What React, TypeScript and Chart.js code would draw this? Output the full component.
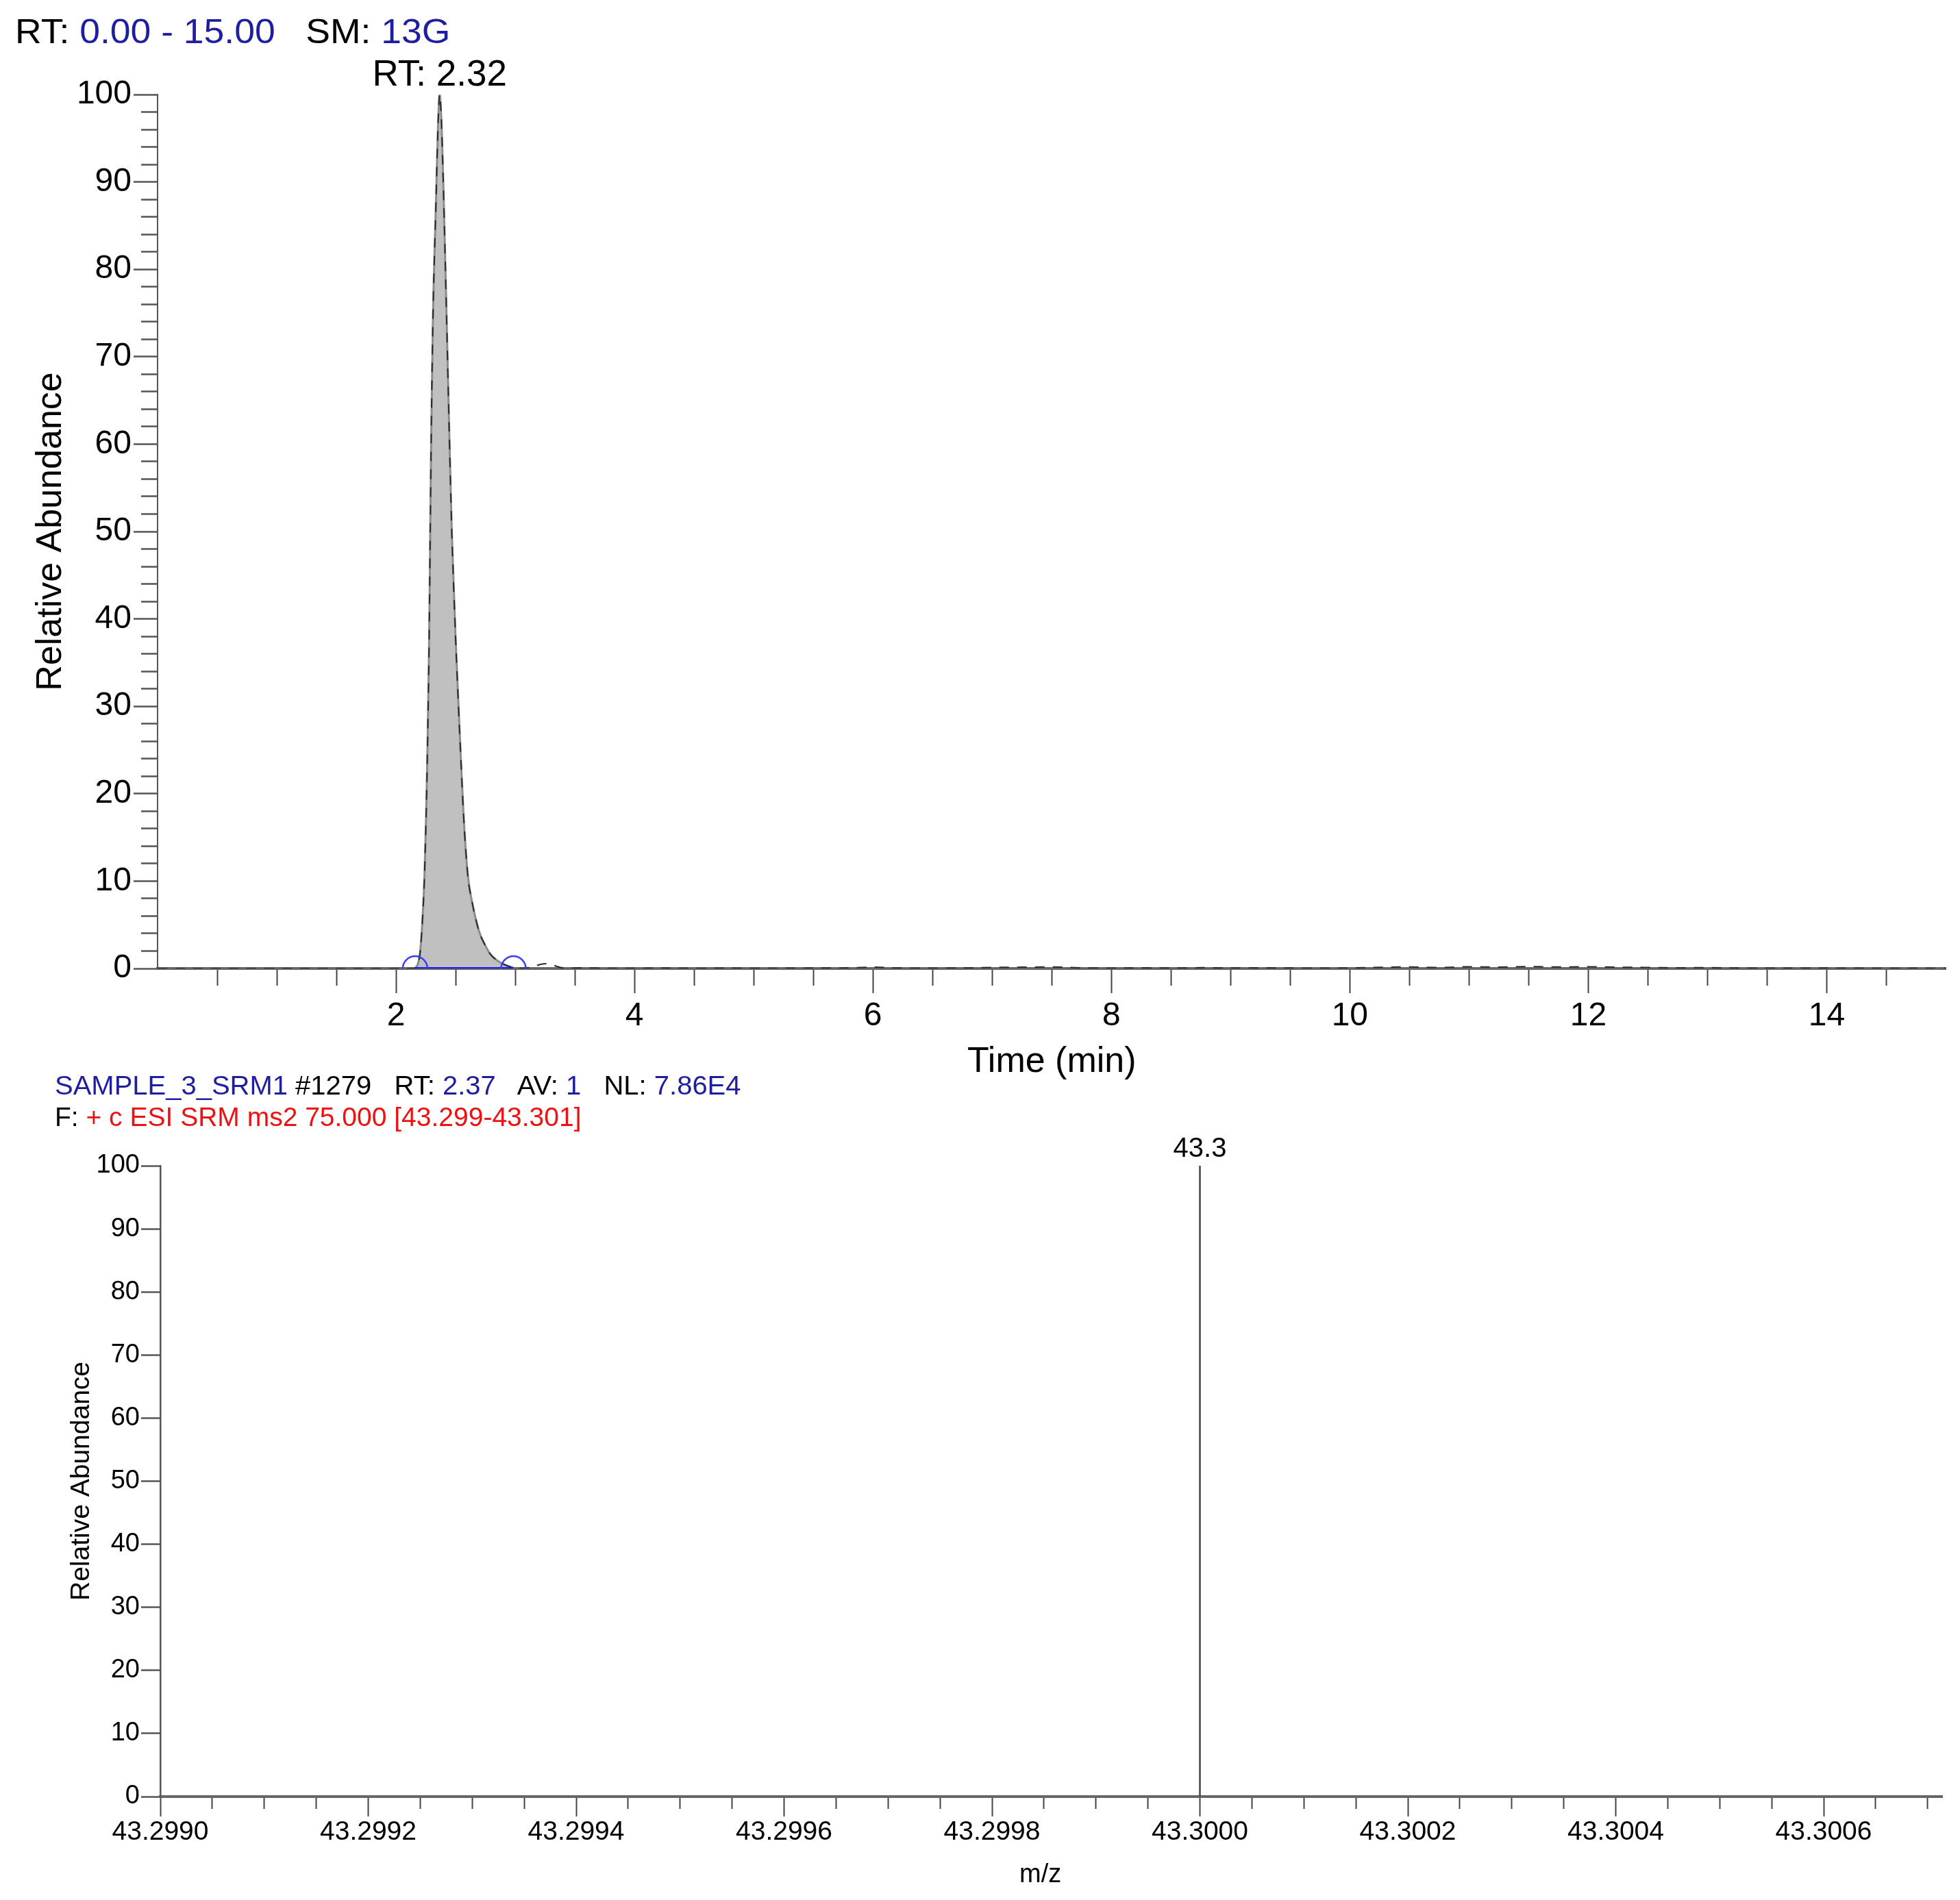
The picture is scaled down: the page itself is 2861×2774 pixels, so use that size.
import React, { useEffect, useRef } from 'react';
import { Chart, registerables } from 'chart.js';

Chart.register(...registerables);

const FONT = '"Liberation Sans", Arial, Helvetica, sans-serif';
Chart.defaults.font.family = FONT;
Chart.defaults.color = '#000';

// ---------- Top: chromatogram ----------
const rtTimes = [
  0, 0.5, 1.0, 1.5, 1.9, 2.10, 2.16, 2.18, 2.20, 2.216, 2.229, 2.239, 2.252, 2.262, 2.277,
  2.287, 2.296, 2.310, 2.335, 2.351, 2.366, 2.384, 2.401, 2.424, 2.446, 2.468, 2.503, 2.545,
  2.568, 2.602, 2.641, 2.698, 2.750, 2.794, 2.850, 2.900, 2.945, 2.985, 3.05, 3.12, 3.18,
  3.25, 3.31, 3.38, 3.45, 3.55, 3.75, 4.0, 4.25, 4.5, 4.75, 5.0, 5.25, 5.5, 5.75, 6.0, 6.25,
  6.5, 6.75, 7.0, 7.25, 7.5, 7.75, 8.0, 8.25, 8.5, 8.75, 9.0, 9.25, 9.5, 9.75, 10.0, 10.25,
  10.5, 10.75, 11.0, 11.25, 11.5, 11.75, 12.0, 12.25, 12.5, 12.75, 13.0, 13.25, 13.5, 13.75,
  14.0, 14.25, 14.5, 14.75, 15.0,
];
const rtAbundance = [
  0, 0, 0, 0, 0, 0, 0.05, 0.4, 1.6, 4.2, 7.4, 10.7, 17.2, 23.7, 36.7,
  49.9, 61.7, 74.6, 87.6, 95.8, 100, 95.8, 87.6, 74.6, 61.7, 49.9, 36.7, 23.7,
  17.2, 10.7, 7.4, 4.2, 2.6, 1.6, 0.9, 0.5, 0.25, 0.1, 0.02, 0.1, 0.35,
  0.55, 0.4, 0.12, 0.02, 0.08, 0.03, 0.02, 0.05, 0.02, 0.04, 0.02, 0.03, 0.05, 0.06, 0.15, 0.05,
  0.03, 0.06, 0.12, 0.15, 0.18, 0.08, 0.04, 0.07, 0.05, 0.09, 0.06, 0.08, 0.05, 0.04, 0.06, 0.14,
  0.18, 0.12, 0.2, 0.16, 0.22, 0.18, 0.2, 0.15, 0.12, 0.08, 0.1, 0.05, 0.04, 0.03,
  0.05, 0.03, 0.02, 0.03, 0.02,
];
const integrationMarks = [2.16, 2.985];
const apexTime = 2.366;
const apexLabel = 'RT: 2.32';
const rtMin = 0;
const rtMax = 15;

// ---------- Bottom: spectrum ----------
const mzValues = [43.3];
const mzIntensity = [100];
const mzLabels = ['43.3'];
const mzMin = 43.299;
const mzMax = 43.300714;

const BLUE = '#1e1ea0';
const RED = '#ee1111';

function isMult(v: number, step: number) {
  const q = v / step;
  return Math.abs(q - Math.round(q)) < 1e-4;
}

export default function App() {
  const topRef = useRef<HTMLCanvasElement | null>(null);
  const botRef = useRef<HTMLCanvasElement | null>(null);

  useEffect(() => {
    const trace = rtTimes.map((t, i) => ({ x: t, y: rtAbundance[i] }));
    const peak = trace.filter((p) => p.x >= integrationMarks[0] && p.x <= integrationMarks[1]);

    const topLabelPlugin = {
      id: 'topLabel',
      afterDatasetsDraw(chart: any) {
        const { ctx, scales } = chart;
        ctx.save();
        ctx.font = `53px ${FONT}`;
        ctx.fillStyle = '#000';
        ctx.textAlign = 'center';
        ctx.textBaseline = 'middle';
        ctx.fillText(apexLabel, scales.x.getPixelForValue(apexTime), scales.y.getPixelForValue(100) - 28);
        ctx.restore();
      },
    };

    const top = new Chart(topRef.current as HTMLCanvasElement, {
      type: 'line',
      data: {
        datasets: [
          {
            label: 'marks',
            data: integrationMarks.map((t) => ({ x: t, y: 0 })),
            showLine: false,
            pointRadius: 18,
            pointHoverRadius: 18,
            pointStyle: 'circle',
            pointBorderColor: '#3a3aff',
            pointBackgroundColor: 'rgba(0,0,0,0)',
            pointBorderWidth: 2.5,
            clip: 0,
            order: 0,
          } as any,
          {
            label: 'baseline',
            data: integrationMarks.map((t) => ({ x: t, y: 0 })),
            borderColor: '#1a1aff',
            borderWidth: 4,
            pointRadius: 0,
            order: 1,
          },
          {
            label: 'trace',
            data: trace,
            borderColor: '#2a2a2a',
            borderWidth: 2,
            borderDash: [14, 12],
            pointRadius: 0,
            fill: false,
            cubicInterpolationMode: 'monotone',
            order: 2,
          },
          {
            label: 'peak',
            data: peak,
            borderColor: '#8c8c8c',
            borderWidth: 3,
            backgroundColor: '#c0c0c0',
            fill: 'origin',
            pointRadius: 0,
            cubicInterpolationMode: 'monotone',
            order: 3,
          },
        ],
      },
      options: {
        animation: false,
        responsive: false,
        maintainAspectRatio: false,
        events: [],
        layout: { padding: { top: 138, right: 17, left: 0, bottom: 0 } },
        plugins: { legend: { display: false }, tooltip: { enabled: false }, title: { display: false } },
        scales: {
          x: {
            type: 'linear',
            min: rtMin,
            max: rtMax,
            afterFit: (s: any) => { s.height = 186; },
            border: { display: true, color: '#666', width: 4 },
            grid: {
              drawOnChartArea: false,
              drawTicks: true,
              tickLength: 36,
              tickColor: (c: any) =>
                c.tick && (c.tick.value === rtMin || c.tick.value === rtMax) ? 'rgba(0,0,0,0)' : '#444',
              tickWidth: 2,
              tickBorderDash: (c: any) => (c.tick && isMult(c.tick.value, 2) ? [] : [23, 1000]),
            },
            ticks: {
              stepSize: 0.5,
              autoSkip: false,
              maxRotation: 0,
              padding: 5,
              color: '#000',
              font: { size: 48, family: FONT },
              callback: (v: any) => (isMult(v, 2) && v !== 0 ? String(Math.round(v)) : ''),
            },
            title: {
              display: true,
              text: 'Time (min)',
              color: '#000',
              font: { size: 52, family: FONT },
              padding: { top: 0, bottom: 18 },
            },
          },
          y: {
            type: 'linear',
            min: 0,
            max: 100,
            afterFit: (s: any) => { s.width = 230; },
            border: { display: true, color: '#555', width: 2 },
            grid: {
              drawOnChartArea: false,
              drawTicks: true,
              tickLength: 35,
              tickColor: '#555',
              tickWidth: 2.5,
              tickBorderDash: (c: any) => (c.tick && isMult(c.tick.value, 10) ? [] : [0, 11, 24, 1000]),
            },
            ticks: {
              stepSize: 2,
              autoSkip: false,
              padding: 3,
              color: '#000',
              font: { size: 48, family: FONT },
              callback: (v: any) => (isMult(v, 10) ? String(Math.round(v)) : ''),
            },
            title: {
              display: true,
              text: 'Relative Abundance',
              color: '#000',
              font: { size: 52, family: FONT },
              padding: { top: 43, bottom: 0 },
            },
          },
        },
      },
      plugins: [topLabelPlugin],
    } as any);

    const sticks = mzValues.map((mz, i) => ({
      label: 'peak' + i,
      data: [{ x: mz, y: 0 }, { x: mz, y: mzIntensity[i] }],
      borderColor: '#444',
      borderWidth: 2.5,
      pointRadius: 0,
      fill: false,
    }));

    const botLabelPlugin = {
      id: 'botLabel',
      afterDatasetsDraw(chart: any) {
        const { ctx, scales } = chart;
        ctx.save();
        ctx.font = `40px ${FONT}`;
        ctx.fillStyle = '#000';
        ctx.textAlign = 'center';
        ctx.textBaseline = 'middle';
        mzValues.forEach((mz, i) => {
          ctx.fillText(mzLabels[i], scales.x.getPixelForValue(mz), scales.y.getPixelForValue(mzIntensity[i]) - 24);
        });
        ctx.restore();
      },
    };

    const bot = new Chart(botRef.current as HTMLCanvasElement, {
      type: 'line',
      data: { datasets: sticks },
      options: {
        animation: false,
        responsive: false,
        maintainAspectRatio: false,
        events: [],
        layout: { padding: { top: 102, right: 26, left: 0, bottom: 0 } },
        plugins: { legend: { display: false }, tooltip: { enabled: false }, title: { display: false } },
        scales: {
          x: {
            type: 'linear',
            min: mzMin,
            max: mzMax,
            afterFit: (s: any) => { s.height = 151; },
            border: { display: true, color: '#666', width: 4 },
            grid: {
              drawOnChartArea: false,
              drawTicks: true,
              tickLength: 29,
              tickColor: '#444',
              tickWidth: 2,
              tickBorderDash: (c: any) => (c.tick && isMult(c.tick.value, 0.0002) ? [] : [16, 1000]),
            },
            ticks: {
              stepSize: 0.00005,
              includeBounds: false,
              autoSkip: false,
              maxRotation: 0,
              padding: 0,
              color: '#000',
              font: { size: 39, family: FONT },
              callback: (v: any) => (isMult(v, 0.0002) ? Number(v).toFixed(4) : ''),
            },
            title: {
              display: true,
              text: 'm/z   ',
              color: '#000',
              font: { size: 38, family: FONT },
              padding: { top: 0, bottom: 14 },
            },
          },
          y: {
            type: 'linear',
            min: 0,
            max: 100,
            afterFit: (s: any) => { s.width = 234; },
            border: { display: true, color: '#555', width: 2.5 },
            grid: {
              drawOnChartArea: false,
              drawTicks: true,
              tickLength: 28,
              tickColor: '#555',
              tickWidth: 2.5,
            },
            ticks: {
              stepSize: 10,
              autoSkip: false,
              padding: 2,
              color: '#000',
              font: { size: 38, family: FONT },
            },
            title: {
              display: true,
              text: 'Relative Abundance',
              color: '#000',
              font: { size: 39, family: FONT },
              padding: { top: 96, bottom: 0 },
            },
          },
        },
      },
      plugins: [botLabelPlugin],
    } as any);

    return () => {
      top.destroy();
      bot.destroy();
    };
  }, []);

  const abs: React.CSSProperties = {
    position: 'absolute',
    whiteSpace: 'pre',
    fontFamily: FONT,
    color: '#000',
    transformOrigin: '0 50%',
  };

  return (
    <div style={{ position: 'absolute', left: 0, top: 0, width: 2861, height: 2774, background: '#fff', overflow: 'hidden' }}>
      <canvas
        ref={topRef}
        width={2861}
        height={1600}
        style={{ position: 'absolute', left: 0, top: 0, width: 2861, height: 1600, display: 'block' }}
      />
      <canvas
        ref={botRef}
        width={2861}
        height={1174}
        style={{ position: 'absolute', left: 0, top: 1600, width: 2861, height: 1174, display: 'block' }}
      />
      <div style={{ ...abs, left: 22, top: 16, fontSize: 50, lineHeight: '60px', transform: 'scaleX(1.07)' }}>
        <span>RT: </span>
        <span style={{ color: BLUE }}>0.00 - 15.00</span>
        <span>{'   SM: '}</span>
        <span style={{ color: BLUE }}>13G</span>
      </div>
      <div style={{ ...abs, left: 80, top: 1561, fontSize: 39, lineHeight: '47px', transform: 'scaleX(1.025)' }}>
        <span style={{ color: BLUE }}>SAMPLE_3_SRM1</span>
        <span>{' #1279   RT: '}</span>
        <span style={{ color: BLUE }}>2.37</span>
        <span>{'   AV: '}</span>
        <span style={{ color: BLUE }}>1</span>
        <span>{'   NL: '}</span>
        <span style={{ color: BLUE }}>7.86E4</span>
      </div>
      <div style={{ ...abs, left: 80, top: 1607, fontSize: 39, lineHeight: '47px' }}>
        <span>F: </span>
        <span style={{ color: RED }}>+ c ESI SRM ms2 75.000 [43.299-43.301]</span>
      </div>
    </div>
  );
}
